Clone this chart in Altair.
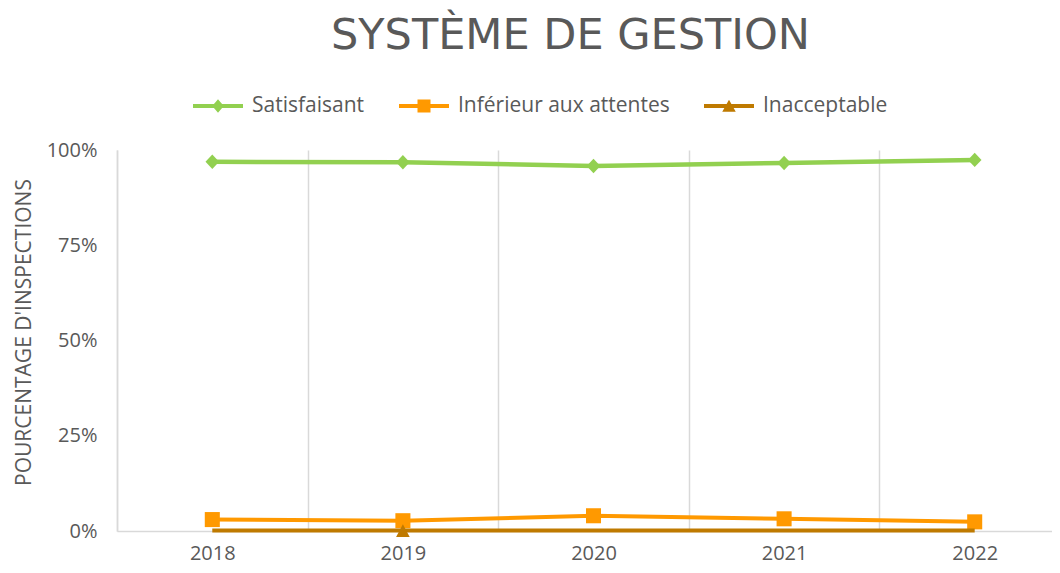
import altair as alt
import pandas as pd

# ---- data ----
years = ["2018", "2019", "2020", "2021", "2022"]
series = ["Satisfaisant", "Inférieur aux attentes", "Inacceptable"]
satisfaisant = [0.969, 0.968, 0.958, 0.966, 0.974]
inferieur = [0.030, 0.027, 0.040, 0.032, 0.024]
inacceptable = [0.001, 0.001, 0.001, 0.001, 0.001]
satisfaisant_marker = [True, True, True, True, True]
inferieur_marker = [True, True, True, True, True]
inacceptable_marker = [False, True, False, False, False]
y_ticks = [0, 0.25, 0.5, 0.75, 1.0]

colors = ["#92D050", "#FF9900", "#BF7A00"]
stroke_widths = [4.5, 4, 4]

# marker shapes (unit paths)
marker_paths = [
    "M0,-0.9L0.85,0L0,0.9L-0.85,0Z",
    "M-0.94,-0.94L0.94,-0.94L0.94,0.94L-0.94,0.94Z",
    "M0,-0.8L0.85,0.8L-0.85,0.8Z",
]
# legend symbols: line + marker
legend_line = "M-1,-0.08L1,-0.08L1,0.08L-1,0.08Z"
legend_paths = [
    legend_line + "M0,-0.27L0.23,0L0,0.27L-0.23,0Z",
    legend_line + "M-0.26,-0.26L0.26,-0.26L0.26,0.26L-0.26,0.26Z",
    legend_line + "M0,-0.25L0.27,0.23L-0.27,0.23Z",
]

rows = []
for s, vals, marks in [
    (series[0], satisfaisant, satisfaisant_marker),
    (series[1], inferieur, inferieur_marker),
    (series[2], inacceptable, inacceptable_marker),
]:
    for yr, v, m in zip(years, vals, marks):
        rows.append({"Année": yr, "Série": s, "Valeur": v, "Marqueur": m})
df = pd.DataFrame(rows)

TEXT = "#595959"
GRID = "#D9D9D9"
FONT = "Open Sans"

x_enc = alt.X(
    "Année:N",
    sort=years,
    bandPosition=0.5,
    scale=alt.Scale(type="band", domain=years, range=[0, 953], paddingInner=0, paddingOuter=0),
    axis=alt.Axis(
        title=None,
        grid=True,
        gridColor=GRID,
        gridWidth=1.5,
        tickBand="extent",
        ticks=False,
        domainColor=GRID,
        domainWidth=1.5,
        labelFont=FONT,
        labelFontSize=20,
        labelColor=TEXT,
        labelPadding=12,
        labelAngle=0,
    ),
)
y_enc = alt.Y(
    "Valeur:Q",
    scale=alt.Scale(domain=[0, 1], nice=False, zero=True),
    axis=alt.Axis(
        title="POURCENTAGE D'INSPECTIONS",
        titleFont=FONT,
        titleFontSize=21,
        titleFontWeight="normal",
        titleColor=TEXT,
        titlePadding=12,
        titleY=182,
        values=y_ticks,
        format=".0%",
        grid=False,
        ticks=False,
        domainColor=GRID,
        domainWidth=1.5,
        labelFont=FONT,
        labelFontSize=20,
        labelColor=TEXT,
        labelPadding=20,
    ),
)
color_enc = alt.Color(
    "Série:N", scale=alt.Scale(domain=series, range=colors), legend=None
)

layers = []
for i, s in enumerate(series):
    base = alt.Chart(df).transform_filter(alt.datum["Série"] == s)
    line = base.mark_line(strokeWidth=stroke_widths[i]).encode(
        x=x_enc, y=y_enc, color=color_enc
    )
    pts = base.transform_filter(alt.datum["Marqueur"]).mark_point(
        filled=True, opacity=1, size=256, strokeWidth=0
    ).encode(
        x=x_enc,
        y=y_enc,
        color=color_enc,
        shape=alt.Shape(
            "Série:N", scale=alt.Scale(domain=series, range=marker_paths), legend=None
        ),
    )
    layers += [line, pts]

legend_props = dict(
    title=None,
    orient="none",
    direction="horizontal",
    legendX=76,
    legendY=-69,
    symbolSize=2500,
    symbolStrokeWidth=0,
    symbolOpacity=1,
    labelFont=FONT,
    labelFontSize=21,
    labelColor=TEXT,
    labelOffset=9,
    labelLimit=400,
    columnPadding=34,
)

legend_df = pd.DataFrame({"Légende": series})
legend_layer = (
    alt.Chart(legend_df)
    .transform_filter("false")
    .mark_point(filled=True, opacity=1, strokeWidth=0)
    .encode(
        color=alt.Color(
            "Légende:N",
            scale=alt.Scale(domain=series, range=colors),
            legend=alt.Legend(**legend_props),
        ),
        shape=alt.Shape(
            "Légende:N",
            scale=alt.Scale(domain=series, range=legend_paths),
            legend=alt.Legend(**legend_props),
        ),
    )
)

chart = (
    alt.layer(*layers, legend_layer)
    .resolve_scale(color="independent", shape="independent")
    .properties(
        width=935,
        height=381,
        autosize=alt.AutoSizeParams(type="none"),
        padding={"left": 109, "top": 142, "right": 0, "bottom": 34},
        title=alt.TitleParams(
            "SYSTÈME DE GESTION",
            font="DejaVu Sans",
            fontSize=43,
            fontWeight="normal",
            color=TEXT,
            anchor="middle",
            dx=-14,
            offset=23,
        ),
    )
    .configure(background="white")
    .configure_view(stroke="transparent", strokeWidth=0)
)

chart.save("out.html", embed_options={"renderer": "svg", "actions": False})
